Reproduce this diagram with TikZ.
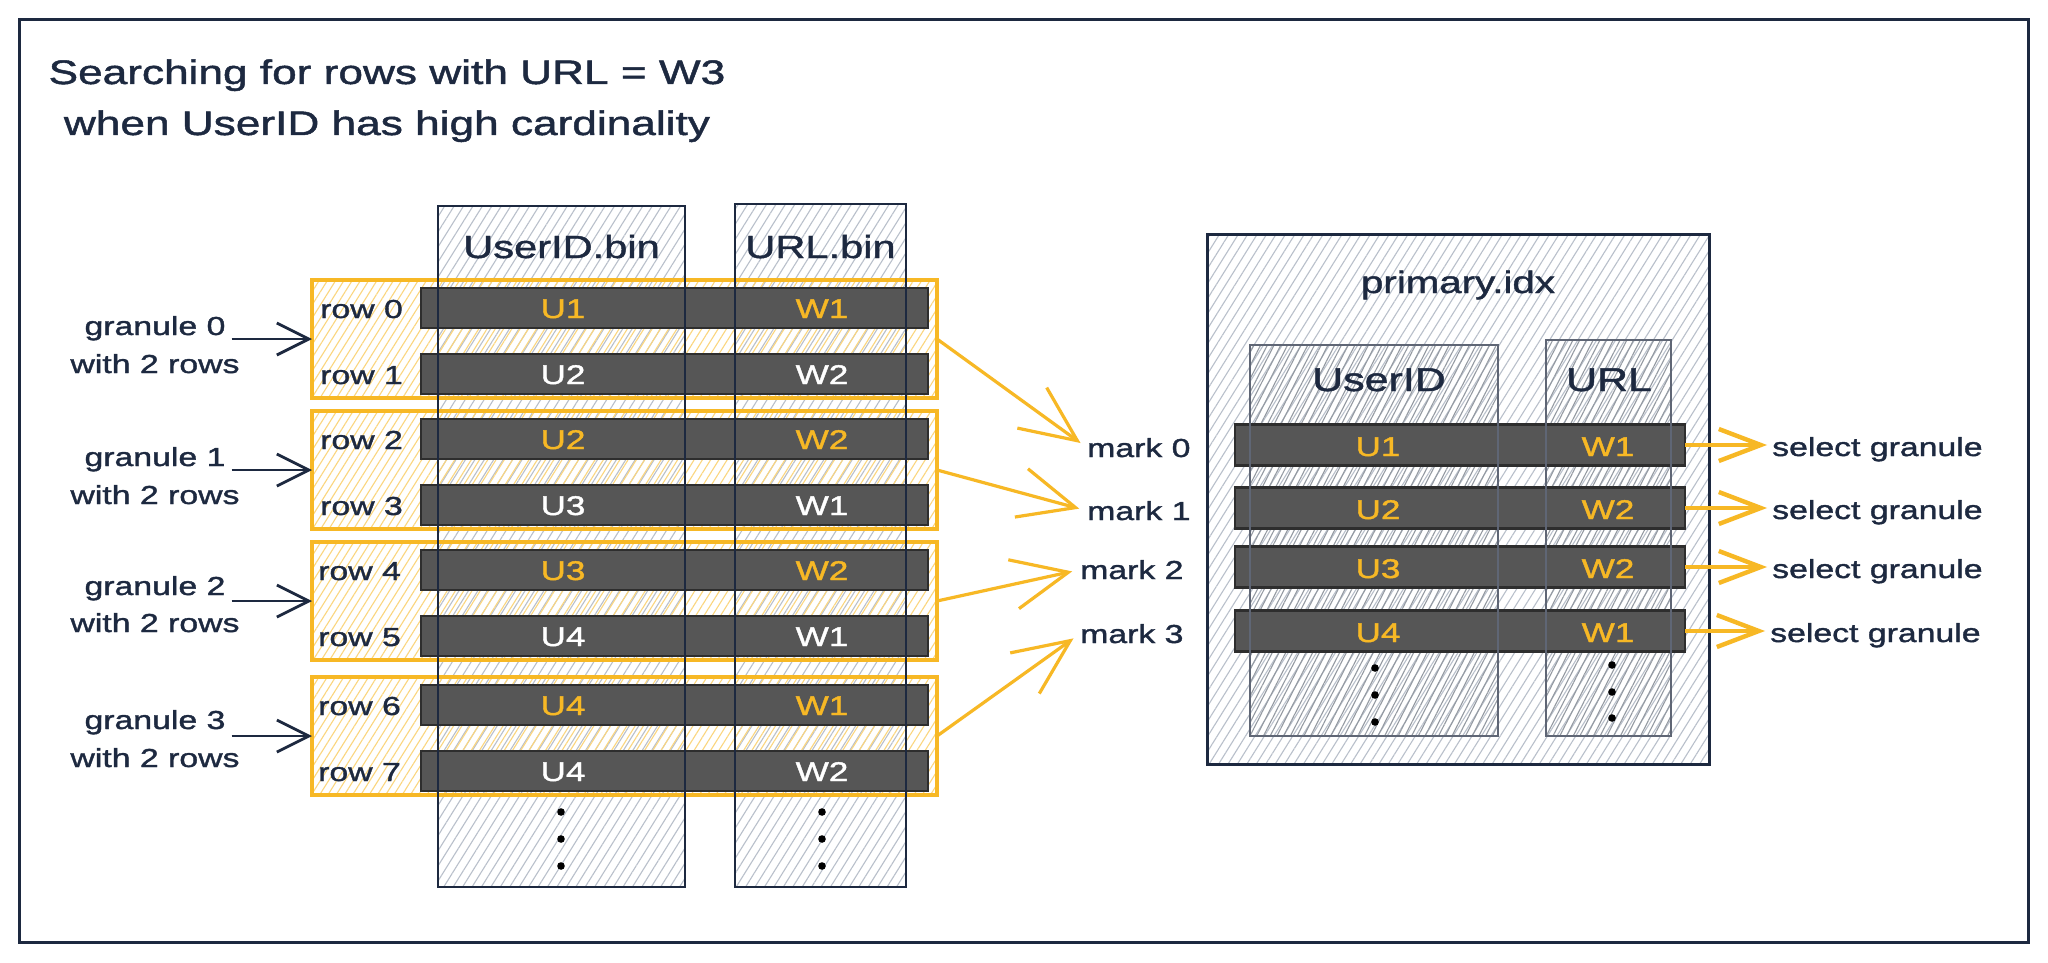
\documentclass[tikz,border=0pt]{standalone}
\usepackage{fontspec}
\setmainfont{Liberation Sans}[FakeStretch=1.3,FakeBold=1.4]
\usetikzlibrary{arrows.meta,patterns.meta}
\definecolor{ink}{HTML}{1D2940}
\definecolor{gold}{HTML}{F7B825}
\definecolor{hatchgray}{HTML}{B9C0CB}
\definecolor{hatchgold}{HTML}{FBD67E}
\definecolor{barfill}{HTML}{565656}
\definecolor{baredge}{HTML}{2E2E2E}
\definecolor{pcolline}{HTML}{5F6675}
\tikzset{
  frame/.style={draw=ink, line width=3pt},
  colfill/.style={pattern={Lines[angle=58,distance=8pt,line width=1.1pt]}, pattern color=hatchgray, draw=none, inner sep=0pt, outer sep=0pt},
  pcolfill/.style={pattern={Lines[angle=63,distance=6pt,line width=1.1pt,xshift=3pt]}, pattern color=hatchgray!80!black, draw=none, inner sep=0pt, outer sep=0pt},
  colline/.style={draw=ink, line width=2.8pt},
  pcolline/.style={draw=pcolline, line width=2.4pt},
  gbox/.style={draw=gold, line width=3.4pt, pattern={Lines[angle=58,distance=7pt,line width=1.1pt]}, pattern color=hatchgold, minimum width=625pt, minimum height=118pt, inner sep=0pt, outer sep=0pt},
  bar/.style={draw=baredge, fill=barfill, line width=2.4pt, minimum width=507pt, minimum height=40pt, inner sep=0pt, outer sep=0pt},
  pbar/.style={draw=baredge, fill=barfill, line width=2.4pt, minimum width=450pt, minimum height=41pt, inner sep=0pt, outer sep=0pt},
  titletext/.style={font=\fontsize{34}{40}\selectfont, text=ink, inner sep=0pt, anchor=base},
  hdr/.style={font=\fontsize{32}{38}\selectfont, text=ink, inner sep=0pt, anchor=base},
  phdr/.style={font=\fontsize{33}{38}\selectfont, text=ink, inner sep=0pt, anchor=base},
  lab/.style={font=\fontsize{26}{30}\selectfont, text=ink, inner sep=0pt, anchor=base},
  labw/.style={lab, anchor=base west},
  val/.style={font=\fontsize{27}{30}\selectfont, inner sep=0pt, anchor=base},
  hot/.style={val, text=gold},
  cold/.style={val, text=white},
  darrow/.style={draw=ink, line width=2.8pt, -{Straight Barb[length=32pt,width=32pt]}, shorten <=6pt},
  yarrow/.style={draw=gold, line width=3.2pt, -{Straight Barb[length=56pt,width=50pt]}, shorten >=8pt},
  sarrow/.style={draw=gold, line width=4.4pt, -{Straight Barb[length=42pt,width=32pt]}, shorten >=5pt},
  dot/.style={fill=black}
}
\begin{document}
\begin{tikzpicture}[x=1pt,y=-1pt]
\useasboundingbox (0,0) rectangle (2048,963);
\fill[white] (0,0) rectangle (2048,963);
% outer frame
\draw[frame] (19,20) rectangle (2028,942);

% title
\node[titletext] (t1) at (387,84) {Searching for rows with URL = W3};
\node[titletext] (t2) at (387,135) {when UserID has high cardinality};

% ---------- left: column files ----------
\node[colfill, minimum width=247pt, minimum height=681pt] (ucol) at (561.5,546.5) {};
\node[colfill, minimum width=171pt, minimum height=683pt] (lcol) at (820.5,545.5) {};

% granule boxes
\node[gbox] (g0) at (624.5,339) {};
\node[gbox] (g1) at (624.5,470) {};
\node[gbox] (g2) at (624.5,601) {};
\node[gbox] (g3) at (624.5,736) {};

% row bars
\node[bar] (r0) at (674.5,308) {};
\node[bar] (r1) at (674.5,374) {};
\node[bar] (r2) at (674.5,439) {};
\node[bar] (r3) at (674.5,505) {};
\node[bar] (r4) at (674.5,570) {};
\node[bar] (r5) at (674.5,636) {};
\node[bar] (r6) at (674.5,705) {};
\node[bar] (r7) at (674.5,771) {};

% column outlines
\draw[colline] (ucol.north west) rectangle (ucol.south east);
\draw[colline] (lcol.north west) rectangle (lcol.south east);

% column headers
\node[hdr] (uhdr) at (561.5,258) {UserID.bin};
\node[hdr] (lhdr) at (820.5,258) {URL.bin};

% row labels
\node[labw] (rl0) at (320,318) {row 0};
\node[labw] (rl1) at (320,384) {row 1};
\node[labw] (rl2) at (320,449) {row 2};
\node[labw] (rl3) at (320,515) {row 3};
\node[labw] (rl4) at (318,580) {row 4};
\node[labw] (rl5) at (318,646) {row 5};
\node[labw] (rl6) at (318,715) {row 6};
\node[labw] (rl7) at (318,781) {row 7};

% values
\node[hot]  (u0) at (563,318) {U1};  \node[hot]  (w0) at (822,318) {W1};
\node[cold] (u1) at (563,384) {U2};  \node[cold] (w1) at (822,384) {W2};
\node[hot]  (u2) at (563,449) {U2};  \node[hot]  (w2) at (822,449) {W2};
\node[cold] (u3) at (563,515) {U3};  \node[cold] (w3) at (822,515) {W1};
\node[hot]  (u4) at (563,580) {U3};  \node[hot]  (w4) at (822,580) {W2};
\node[cold] (u5) at (563,646) {U4};  \node[cold] (w5) at (822,646) {W1};
\node[hot]  (u6) at (563,715) {U4};  \node[hot]  (w6) at (822,715) {W1};
\node[cold] (u7) at (563,781) {U4};  \node[cold] (w7) at (822,781) {W2};

% dots
\foreach \y in {812,839,866} {
  \fill[dot] (561,\y) circle (3.8pt);
  \fill[dot] (822,\y) circle (3.8pt);
}

% granule labels
\node[lab] (gl0) at (155,335) {granule 0};
\node[lab] (gw0) at (155,373) {with 2 rows};
\node[lab] (gl1) at (155,466) {granule 1};
\node[lab] (gw1) at (155,504) {with 2 rows};
\node[lab] (gl2) at (155,595) {granule 2};
\node[lab] (gw2) at (155,632) {with 2 rows};
\node[lab] (gl3) at (155,729) {granule 3};
\node[lab] (gw3) at (155,767) {with 2 rows};

\draw[darrow] (gl0.east |- g0.west) -- (g0.west);
\draw[darrow] (gl1.east |- g1.west) -- (g1.west);
\draw[darrow] (gl2.east |- g2.west) -- (g2.west);
\draw[darrow] (gl3.east |- g3.west) -- (g3.west);

% marks
\node[labw] (m0) at (1087,457) {mark 0};
\node[labw] (m1) at (1087,520) {mark 1};
\node[labw] (m2) at (1080,579) {mark 2};
\node[labw] (m3) at (1080,643) {mark 3};

\draw[yarrow] (g0.east) -- (m0.west);
\draw[yarrow] (g1.east) -- (m1.west);
\draw[yarrow] (g2.east) -- (m2.west);
\draw[yarrow] (g3.east) -- (m3.west);

% ---------- right: primary.idx ----------
\node[colfill, draw=ink, line width=3pt, minimum width=502pt, minimum height=530pt] (pidx) at (1458,499) {};
\node[pcolfill, minimum width=248pt, minimum height=391pt] (pucol) at (1374,540.5) {};
\node[pcolfill, minimum width=125pt, minimum height=396pt] (plcol) at (1608.5,538) {};

\node[pbar] (pb0) at (1460,445) {};
\node[pbar] (pb1) at (1460,508) {};
\node[pbar] (pb2) at (1460,567) {};
\node[pbar] (pb3) at (1460,631) {};

\draw[pcolline] (pucol.north west) rectangle (pucol.south east);
\draw[pcolline] (plcol.north west) rectangle (plcol.south east);

\node[font=\fontsize{31}{36}\selectfont, text=ink, inner sep=0pt, anchor=base] (ptitle) at (1458,293) {primary.idx};
\node[phdr] (puhdr) at (1379,391) {UserID};
\node[phdr] (plhdr) at (1609,391) {URL};

\node[hot] (pu0) at (1378,456) {U1}; \node[hot] (pw0) at (1608,456) {W1};
\node[hot] (pu1) at (1378,519) {U2}; \node[hot] (pw1) at (1608,519) {W2};
\node[hot] (pu2) at (1378,578) {U3}; \node[hot] (pw2) at (1608,578) {W2};
\node[hot] (pu3) at (1378,642) {U4}; \node[hot] (pw3) at (1608,642) {W1};

\foreach \y in {668,695,722} {
  \fill[dot] (1375,\y) circle (3.8pt);
}
\foreach \y in {665,692,718} {
  \fill[dot] (1612,\y) circle (3.8pt);
}

% select granule
\node[labw] (s0) at (1772,456) {select granule};
\node[labw] (s1) at (1772,519) {select granule};
\node[labw] (s2) at (1772,578) {select granule};
\node[labw] (s3) at (1770,642) {select granule};

\draw[sarrow] (pb0.east) -- (pb0.east -| s0.west);
\draw[sarrow] (pb1.east) -- (pb1.east -| s1.west);
\draw[sarrow] (pb2.east) -- (pb2.east -| s2.west);
\draw[sarrow] (pb3.east) -- (pb3.east -| s3.west);
\end{tikzpicture}
\end{document}
